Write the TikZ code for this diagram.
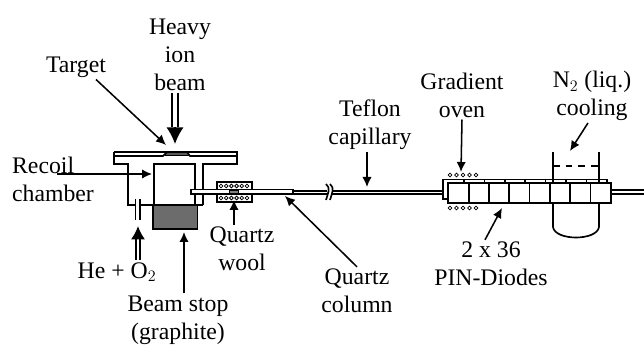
\documentclass[tikz,border=0pt]{standalone}
\usepackage{fontspec}
\setmainfont{Liberation Serif}
\usetikzlibrary{arrows.meta}
\tikzset{
	x=0.75pt,
	y=-0.75pt,
	every path/.style = {line width=1.25pt},
	label/.style = {align=center, inner sep=1pt, font=\fontsize{17.8}{21}\selectfont},
	pointer/.style = {-{Latex[length=7.5pt,width=7pt]}, line width=1.15pt},
	shaft/.style = {double, double distance=2pt},
	hole/.style = {line width=0.6pt, fill=white, circle, inner sep=0pt, minimum size=2.8pt, draw}
}

\begin{document}
\begin{tikzpicture}
	\useasboundingbox (0,0) rectangle (644,345);
	\node (heavy) [label] at (180,55) {Heavy\\ion\\beam};
	\node (target) [label] at (76,67) {Target};
	\node (recoil) [label, align=left] at (53,179) {Recoil\\chamber};
	\node (heo) [label] at (117,272) {He + O$_2$};
	\node (wool) [label] at (242,249) {Quartz\\wool};
	\node (stop) [label] at (178,320) {Beam stop\\(graphite)};
	\node (column) [label] at (357,291) {Quartz\\column};
	\node (teflon) [label] at (370,125) {Teflon\\capillary};
	\node (oven) [label] at (462,95) {Gradient\\oven};
	\node (cooling) [label] at (592,96) {N$_2$ (liq.)\\cooling};
	\node (diodes) [label] at (491,264) {2 x 36\\PIN-Diodes};

	\draw[fill=gray!70!black, line width=0.6pt] (167,152) -- (187,152) -- (189,155.5) -- (165,155.5) -- cycle;
	\draw (114,152) -- (237,152) -- (237,164) -- (203,164) -- (203,205);
	\draw (114,152) -- (114,164) -- (128,164) -- (128,205) -- (135.5,205);
	\draw (114,156) -- (163,156) -- (167,152);
	\draw (237,156) -- (190,156) -- (187,152);
	\draw (154,205) -- (154,164) -- (195,164) -- (195,205);
	\draw (195,205) -- (203,205);
	\draw (140,205) -- (153,205);
	\draw (135.5,199) -- (135.5,220);
	\draw (140,199) -- (140,220);
	\draw[fill=gray!85!black] (153,205) rectangle (197.5,229);

	\draw (217,182) rectangle (252,202);
	\foreach \px in {0,...,5} {
		\node (top\px) [hole] at (221+\px*5.2,186) {};
		\node (bot\px) [hole] at (221+\px*5.2,198) {};
	}
	\draw[fill=white] (191,189.5) rectangle (293,194);
	\draw[fill=gray, line width=0.5pt] (229,190.5) rectangle (238,193);
	\draw (293,191) -- (327,191);
	\draw (293,194) -- (327,194);
	\draw (332,191) -- (443,191);
	\draw (332,194) -- (443,194);
	\draw (326,184) .. controls (331,188) and (328,193) .. (326,200);
	\draw (330,184) .. controls (335,188) and (332,193) .. (330,200);

	\draw (448,199) -- (443,199) -- (443,179.5) -- (606.7,179.5) -- (606.7,183);
	\draw[fill=white] (448,183) rectangle (611,203);
	\foreach \px in {0,...,6} {
		\draw (468.7+\px*20.3,183) -- (468.7+\px*20.3,203);
		\draw (464+\px*20.4,179.5) -- (464+\px*20.4,183);
	}
	\foreach \px in {0,...,4} {
		\node (up\px) [hole] at (450+\px*6.5,175) {};
		\node (lo\px) [hole] at (450+\px*6.5,208) {};
	}
	\draw (611,190) -- (644,190);
	\draw (611,194) -- (644,194);
	\draw (553,152) -- (553,183);
	\draw (599,152) -- (599,183);
	\draw[dash pattern=on 5pt off 4.5pt] (553,166) -- (598,166);
	\draw (553,203) -- (553,227) .. controls (555,241) and (597,241) .. (599,227) -- (599,203);

	\coordinate (targetend) at (166,145);
	\coordinate (beamhead) at (175,127);
	\coordinate (beamend) at (175,144);
	\coordinate (recoilend) at (152,174);
	\coordinate (heohead) at (138,239);
	\coordinate (heoend) at (138,226);
	\coordinate (woolend) at (234,200);
	\coordinate (stopend) at (184,232);
	\coordinate (columnend) at (285,196);
	\coordinate (teflonend) at (367,187);
	\coordinate (ovenend) at (461,172);
	\coordinate (coolingend) at (570,151);
	\coordinate (diodesend) at (502,208);

	\draw[shaft, line width=1.8pt, double distance=2.6pt] ([xshift=-3.75pt]heavy.south) -- (beamhead);
	\draw[-{Latex[length=12.5pt,width=13pt]}] (beamhead) -- (beamend);
	\draw[shaft, line width=1.5pt] ([xshift=15.75pt]heo.north) -- (heohead);
	\draw[-{Latex[length=10pt,width=10.5pt]}] (heohead) -- (heoend);
	\draw[pointer] ([xshift=15pt]target.south) -- (targetend);
	\draw[pointer] ([xshift=3pt,yshift=3.75pt]recoil.center) -- (recoilend);
	\draw[pointer] ([xshift=-6pt]wool.north) -- (woolend);
	\draw[pointer] ([xshift=4.5pt]stop.north) -- (stopend);
	\draw[pointer] (column.north) -- (columnend);
	\draw[pointer] ([xshift=-2.25pt]teflon.south) -- (teflonend);
	\draw[pointer] (oven.south) -- (ovenend);
	\draw[pointer] ([xshift=-3pt]cooling.south) -- (coolingend);
	\draw[pointer] ([xshift=-4.5pt]diodes.north) -- (diodesend);
\end{tikzpicture}
\end{document}
